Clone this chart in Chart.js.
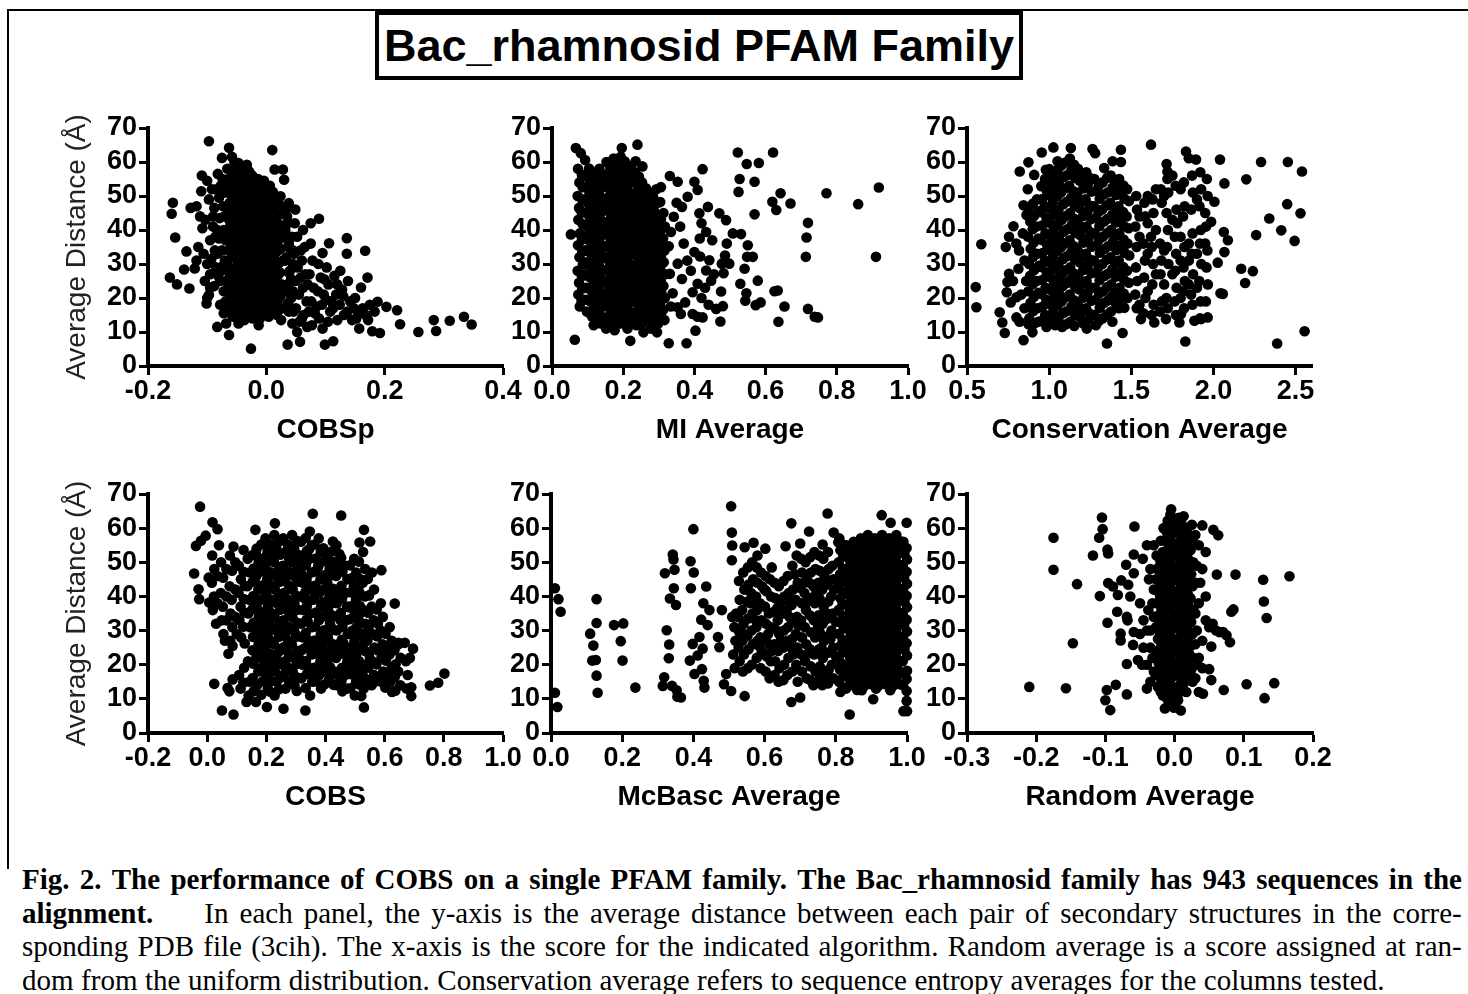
<!DOCTYPE html>
<html>
<head>
<meta charset="utf-8">
<script src="https://cdn.jsdelivr.net/npm/chart.js@4.4.0/dist/chart.umd.min.js"></script>
<style>
  html, body { margin: 0; padding: 0; background: #fff; }
  body { width: 1468px; height: 994px; position: relative; overflow: hidden; }
  .frame { position: absolute; left: 7px; top: 9px; width: 1470px; height: 858px; border-top: 2px solid #000; border-left: 2px solid #000; }
  .title { position: absolute; left: 375px; top: 11px; width: 640px; height: 61px; border: 4px solid #000; background: #fff;
           font: bold 45px "Liberation Sans", Arial, sans-serif; text-align: center; line-height: 61px; color: #000; }
  canvas { position: absolute; }
  .caption { position: absolute; left: 22px; top: 863px; width: 1440px; color: #000;
             font-family: "Liberation Serif", "Times New Roman", serif; font-size: 29px; line-height: 33.7px; }
  .caption .line { display: flex; justify-content: space-between; white-space: nowrap; }
  .caption .line.last { justify-content: flex-start; }
  .caption .line.last span { margin-right: 7.5px; }
</style>
</head>
<body>
<div class="frame"></div>
<div class="title">Bac_rhamnosid PFAM Family</div>
<div class="caption" id="caption"></div>
<script>
// caption text, one entry per printed line
const captionLines = [
  { text: 'Fig. 2.  The performance of COBS on a single PFAM family.  The Bac_rhamnosid family has 943 sequences in the', bold: true },
  { text: 'alignment. In each panel, the y-axis is the average distance between each pair of secondary structures in the corre-', boldFirst: true },
  { text: 'sponding PDB file (3cih).  The x-axis is the score for the indicated algorithm.  Random average is a score assigned at ran-' },
  { text: 'dom from the uniform distribution.  Conservation average refers to sequence entropy averages for the columns tested.', last: true }
];

// tick values per panel
const yTicks = [0, 10, 20, 30, 40, 50, 60, 70];
const cobspTicks = [-0.2, 0, 0.2, 0.4];
const miTicks = [0, 0.2, 0.4, 0.6, 0.8, 1.0];
const consTicks = [0.5, 1.0, 1.5, 2.0, 2.5];
const cobsTicks = [-0.2, 0, 0.2, 0.4, 0.6, 0.8, 1.0];
const mcbascTicks = [0, 0.2, 0.4, 0.6, 0.8, 1.0];
const randomTicks = [-0.3, -0.2, -0.1, 0, 0.1, 0.2];

// [score, average distance]
const cobspPoints = [
  [-0.163,26],[-0.151,24],[-0.16,44.8],[-0.158,48],[-0.154,37.8],[-0.13,22.8],[-0.135,33.7],[-0.139,28.4],[-0.121,28.7],[-0.128,46.5],
  [-0.11,51.4],[-0.101,18.4],[-0.097,20.9],[-0.083,11.5],[-0.063,9.1],[-0.026,5.1],[0.036,6.3],[0.057,7.1],[0.099,6.3],[0.113,7.3],
  [0.089,43.3],[0.075,42],[0.136,37.6],[0.136,33],[0.167,33.9],[0.171,26],[0.16,23.1],[0.106,36.1],[0.095,33.2],[0.188,18.9],
  [0.203,17.4],[0.221,16.4],[0.226,12.3],[0.179,10.2],[0.192,9.7],[0.257,10],[0.283,13.5],[0.287,10.3],[0.31,13.3],[0.334,14.5],
  [0.347,12.2],[-0.097,66.1],[-0.063,64.2],[0.01,63.5],[0.03,54.8],[0.014,57.8],[0.028,57.8],[-0.033,59.2],[-0.047,59.7],[-0.075,61.2],
  [-0.058,61.5],[0.024,49.9],[0.038,47.9],[0.049,46],
  [-0.118,47],[-0.112,44],[-0.108,40.5],[-0.115,35],[-0.106,33],[-0.118,31],[-0.1,30],[-0.104,25],[-0.095,27],[-0.109,56],
  [-0.1,54.5],[-0.092,52],[-0.097,49],[-0.088,46.5],[-0.103,43],[-0.09,41],[-0.095,37],[-0.087,34],[-0.093,31.5],[-0.085,29],
  [-0.081,26.5],[-0.088,23.5],[-0.1,20],[-0.082,56.5],[-0.077,53],[-0.08,49.5],[-0.073,47],[-0.079,43.5],[-0.072,40],[-0.08,37.5],
  [-0.075,34],[-0.07,31],[-0.077,28],[-0.068,25],[-0.072,22],
  [-0.085,52],[-0.09,44],[-0.083,40],[-0.095,23],[-0.078,18],[-0.072,15.5],[-0.068,12.5],
  [-0.074,55],[-0.07,51],[-0.071,44],[-0.069,37],[-0.073,29.5],[-0.069,19],[-0.078,25],[-0.083,33],[-0.086,38],
  [-0.066,58],[-0.063,55],[-0.067,51.5],[-0.062,48],[-0.065,44.5],[-0.061,41],[-0.066,37.5],[-0.063,34],[-0.067,30.5],[-0.062,27],[-0.064,23.5],[-0.06,20],[-0.065,16.5],
  [-0.054,60],[-0.057,56.5],[-0.053,53],[-0.056,49.5],[-0.052,46],[-0.057,42.5],[-0.053,39],[-0.056,35.5],[-0.052,32],[-0.055,28.5],[-0.051,25],[-0.056,21.5],[-0.053,18],[-0.057,14.5],
  [-0.044,57],[-0.047,53.5],[-0.043,50],[-0.046,46.5],[-0.042,43],[-0.047,39.5],[-0.044,36],[-0.046,32.5],[-0.043,29],[-0.045,25.5],[-0.042,22],[-0.046,18.5],[-0.043,15],[-0.047,12.5],
  [-0.034,58.5],[-0.037,55],[-0.033,51.5],[-0.036,48],[-0.032,44.5],[-0.037,41],[-0.034,37.5],[-0.036,34],[-0.033,30.5],[-0.035,27],[-0.032,23.5],[-0.036,20],[-0.033,16.5],[-0.037,13.5],
  [-0.024,56],[-0.027,52.5],[-0.023,49],[-0.026,45.5],[-0.022,42],[-0.027,38.5],[-0.024,35],[-0.026,31.5],[-0.023,28],[-0.025,24.5],[-0.022,21],[-0.026,17.5],[-0.023,14],
  [-0.014,55],[-0.017,51.5],[-0.013,48],[-0.016,44.5],[-0.012,41],[-0.017,37.5],[-0.014,34],[-0.016,30.5],[-0.013,27],[-0.015,23.5],[-0.012,20],[-0.016,16.5],[-0.013,12],
  [-0.004,54.5],[-0.007,50],[-0.003,46.5],[-0.006,43],[-0.002,39.5],[-0.007,36],[-0.004,32.5],[-0.006,29],[-0.003,25.5],[-0.005,22],[-0.002,18.5],[-0.006,15],
  [0.006,53],[0.003,49],[0.007,45.5],[0.004,42],[0.008,38.5],[0.003,35],[0.006,31.5],[0.004,28],[0.007,24.5],[0.005,21],[0.008,17.5],[0.004,14.5],
  [0.016,50],[0.013,46],[0.017,42.5],[0.014,39],[0.018,35.5],[0.013,32],[0.016,28.5],[0.014,25],[0.017,21.5],[0.015,18],[0.018,15],
  [0.026,45],[0.023,41.5],[0.027,38],[0.024,34.5],[0.028,31],[0.023,27.5],[0.026,24],[0.024,20.5],[0.027,17],[0.025,13.5],
  [-0.059,56.8],[-0.061,53.1],[-0.058,49.9],[-0.06,46.2],[-0.062,42.8],[-0.059,39.4],[-0.06,35.7],[-0.058,32.3],[-0.061,28.9],[-0.059,25.1],[-0.06,21.8],[-0.062,18.4],
  [-0.049,58.7],[-0.051,55.2],[-0.05,51.6],[-0.048,48.1],[-0.051,44.9],[-0.049,41.2],[-0.05,37.6],[-0.052,34.2],[-0.049,30.8],[-0.05,27.1],[-0.048,23.7],[-0.051,20.3],[-0.05,16.6],
  [-0.039,56.1],[-0.041,52.4],[-0.04,48.8],[-0.038,45.3],[-0.041,41.9],[-0.039,38.2],[-0.04,34.8],[-0.042,31.3],[-0.039,27.6],[-0.04,24.2],[-0.038,20.9],[-0.041,17.2],[-0.04,14.1],
  [-0.029,57.2],[-0.031,53.6],[-0.03,50.1],[-0.028,46.4],[-0.031,42.9],[-0.029,39.3],[-0.03,35.9],[-0.032,32.2],[-0.029,28.7],[-0.03,25.3],[-0.028,21.8],[-0.031,18.3],[-0.03,15.2],
  [-0.019,54.3],[-0.021,50.7],[-0.02,47.2],[-0.018,43.8],[-0.021,40.1],[-0.019,36.7],[-0.02,33.2],[-0.022,29.8],[-0.019,26.2],[-0.02,22.7],[-0.018,19.3],[-0.021,15.8],
  [-0.009,52.8],[-0.011,49.2],[-0.01,45.7],[-0.008,42.3],[-0.011,38.8],[-0.009,35.2],[-0.01,31.7],[-0.012,28.3],[-0.009,24.8],[-0.01,21.2],[-0.008,17.7],[-0.011,13.9],
  [0.001,51.6],[-0.001,48.1],[0.0,44.6],[0.002,41.1],[-0.001,37.7],[0.001,34.2],[0.0,30.6],[-0.002,27.2],[0.001,23.6],[0.0,20.1],[0.002,16.7],
  [0.011,51.2],[0.009,47.6],[0.01,44.1],[0.012,40.6],[0.009,37.1],[0.011,33.6],[0.01,30.1],[0.008,26.6],[0.011,23.1],[0.01,19.6],[0.012,16.2],
  [0.021,47.8],[0.019,44.2],[0.02,40.7],[0.022,37.3],[0.019,33.8],[0.021,30.2],[0.02,26.8],[0.018,23.2],[0.021,19.7],[0.02,16.3],
  [0.033,46],[0.036,42],[0.031,38.5],[0.037,35],[0.032,31],[0.038,27.5],[0.033,22],[0.037,18.5],[0.043,38],[0.045,34],[0.042,25.5],[0.046,16],
  [0.035,44],[0.032,40],[0.038,36],[0.034,32],[0.04,28],[0.036,24],[0.042,20],[0.038,16],[0.044,12.5],
  [0.048,42],[0.052,38],[0.047,33],[0.053,29],[0.049,25],[0.055,21],[0.05,17],[0.056,13],[0.052,10],
  [0.062,40],[0.065,35],[0.06,31],[0.066,27],[0.062,23],[0.068,19],[0.063,15],[0.069,11.5],
  [0.075,36],[0.078,31],[0.073,27],[0.08,23],[0.076,19],[0.082,15.5],[0.077,12],
  [0.088,30],[0.092,26],[0.087,22],[0.094,18],[0.089,14],[0.097,21],
  [0.102,29],[0.105,24],[0.101,19.5],[0.108,16],[0.104,13],
  [0.115,26.5],[0.118,21],[0.113,17],[0.12,13.5],
  [0.125,28],[0.128,22.5],[0.124,18],[0.131,15],
  [0.138,25],[0.142,19],[0.137,16],[0.145,13.5],
  [0.15,20],[0.155,16],[0.152,14],[0.163,17],[0.168,15],[0.175,18],[0.183,16],[0.172,13.5],[0.157,11],
  [0.045,30],[0.058,34],[0.07,24],[0.085,17.5],[0.098,25.5],[0.11,19],[0.13,20.5],[0.148,17],[0.06,14],[0.072,16],
  [0.095,11],[0.045,22],[0.058,26],[0.12,24]
];

const miPoints = [
  [0.064,7.7],[0.053,38.7],[0.067,64.1],[0.081,62.6],[0.093,60.6],[0.24,65.1],[0.196,64.1],[0.423,57.9],[0.522,62.8],[0.547,59.4],
  [0.581,59.7],[0.621,62.8],[0.527,55],[0.524,51.2],[0.569,54.2],[0.619,48.3],[0.63,45.9],[0.642,50.8],[0.67,47.8],[0.771,50.8],
  [0.86,47.6],[0.918,52.5],[0.91,32.1],[0.719,42.1],[0.715,37.8],[0.713,32.1],[0.719,16.8],[0.738,14.5],[0.747,14.3],[0.569,44.6],
  [0.625,22],[0.634,22.2],[0.636,13],[0.653,17.5],[0.55,35.5],[0.564,32.1],[0.548,32.1],[0.541,28.6],[0.578,25.1],[0.529,24.2],
  [0.546,21.4],[0.543,19.2],[0.572,17.9],[0.586,18.7],[0.508,39],[0.531,38.8],[0.47,44.9],[0.489,42.9],[0.491,36],[0.486,32.5],
  [0.477,30.1],[0.498,30.1],[0.482,27.3],[0.475,21.9],[0.48,17.6],[0.461,16.8],[0.473,13.1],[0.328,6.7],[0.378,6.7],[0.22,7.4],
  [0.257,9.9],[0.295,9.9],[0.403,10.4],[0.423,14.3],[0.409,14.5],[0.438,46.8],[0.433,39.4],[0.414,44.9],[0.4,33.5],[0.416,32.2],
  [0.442,31.1],[0.433,28.1],[0.447,25.1],[0.409,24.2],[0.395,21.7],[0.374,18.7],[0.362,15.3],[0.395,15.3],[0.334,17.5],[0.353,17.3],
  [0.4,54.2],[0.409,51.8],[0.381,49.8],[0.353,54.2],[0.331,55.9],[0.306,52.6],[0.365,46.8],[0.342,43.9],[0.334,39.4],[0.328,35.2],
  [0.353,30.1],[0.331,27.1],[0.365,25.6],[0.339,21.4],[0.283,33.5],[0.262,48.3],[0.254,58.7],[0.235,60.2],
  [0.37,36],[0.36,41],[0.39,28],[0.42,20],[0.44,18],[0.38,31],[0.35,48],[0.42,42],[0.45,37],[0.43,23],[0.455,27],[0.415,37.5],
  [0.073,58],[0.077,54],[0.072,50],[0.076,46.5],[0.074,43],[0.078,39],[0.073,35.5],[0.077,32],[0.072,28],[0.076,24.5],[0.074,21],[0.078,17.5],
  [0.093,56],[0.097,52.5],[0.092,49],[0.096,45],[0.094,41.5],[0.098,38],[0.093,34],[0.097,30.5],[0.092,27],[0.096,23],[0.094,19.5],[0.098,16],
  [0.113,57],[0.117,53.5],[0.112,50],[0.116,46],[0.114,42.5],[0.118,39],[0.113,35.5],[0.117,32],[0.112,28.5],[0.116,25],[0.114,21.5],[0.118,18],[0.113,14.5],[0.117,12],
  [0.133,58],[0.137,54.5],[0.132,51],[0.136,47],[0.134,43.5],[0.138,40],[0.133,36.5],[0.137,33],[0.132,29.5],[0.136,26],[0.134,22.5],[0.138,19],[0.133,15.5],[0.137,12.5],
  [0.153,60],[0.157,56.5],[0.152,53],[0.156,49.5],[0.154,46],[0.158,42.5],[0.153,39],[0.157,35.5],[0.152,32],[0.156,28.5],[0.154,25],[0.158,21.5],[0.153,18],[0.157,14.5],[0.152,11],
  [0.173,61],[0.177,57.5],[0.172,54],[0.176,50.5],[0.174,47],[0.178,43.5],[0.173,40],[0.177,36.5],[0.172,33],[0.176,29.5],[0.174,26],[0.178,22.5],[0.173,19],[0.177,15.5],[0.172,12],[0.176,10.5],
  [0.193,61.5],[0.197,58],[0.192,54.5],[0.196,51],[0.194,47.5],[0.198,44],[0.193,40.5],[0.197,37],[0.192,33.5],[0.196,30],[0.194,26.5],[0.198,23],[0.193,19.5],[0.197,16],[0.192,12.5],
  [0.213,59],[0.217,55.5],[0.212,52],[0.216,48.5],[0.214,45],[0.218,41.5],[0.213,38],[0.217,34.5],[0.212,31],[0.216,27.5],[0.214,24],[0.218,20.5],[0.213,17],[0.217,13.5],[0.212,11],
  [0.233,57],[0.237,53.5],[0.232,50],[0.236,46.5],[0.234,43],[0.238,39.5],[0.233,36],[0.237,32.5],[0.232,29],[0.236,25.5],[0.234,22],[0.238,18.5],[0.233,15],[0.237,12],
  [0.253,54],[0.257,50.5],[0.252,47],[0.256,43.5],[0.254,40],[0.258,36.5],[0.253,33],[0.257,29.5],[0.252,26],[0.256,22.5],[0.254,19],[0.258,15.5],[0.253,12.5],
  [0.273,51],[0.277,47],[0.272,43.5],[0.276,40],[0.274,36.5],[0.278,33],[0.273,29.5],[0.277,26],[0.272,22.5],[0.276,19],[0.274,15.5],[0.278,11],
  [0.293,52],[0.297,48],[0.292,44.5],[0.296,41],[0.294,37],[0.298,33.5],[0.293,30],[0.297,26.5],[0.292,23],[0.296,19.5],[0.294,16],[0.298,12.5],
  [0.313,45],[0.317,41],[0.312,37.5],[0.316,34],[0.314,30.5],[0.318,27],[0.313,23.5],[0.317,20],[0.312,16.5],[0.316,13.5],
  [0.084,56.2],[0.086,52.6],[0.085,48.9],[0.083,45.3],[0.086,41.7],[0.084,37.1],[0.085,33.6],[0.087,29.9],[0.084,26.4],[0.085,22.8],[0.083,19.2],
  [0.104,58.1],[0.106,54.6],[0.105,51.2],[0.103,47.6],[0.106,43.9],[0.104,40.3],[0.105,36.9],[0.107,33.4],[0.104,29.7],[0.105,26.2],[0.103,22.8],[0.106,19.1],[0.105,15.6],
  [0.124,55.3],[0.126,51.8],[0.125,48.2],[0.123,44.6],[0.126,41.1],[0.124,37.6],[0.125,34.1],[0.127,30.6],[0.124,27.2],[0.125,23.6],[0.123,20.1],[0.126,16.6],[0.125,13.2],
  [0.144,56.3],[0.146,52.7],[0.145,49.1],[0.143,45.6],[0.146,42.2],[0.144,38.6],[0.145,35.1],[0.147,31.7],[0.144,28.2],[0.145,24.6],[0.143,21.1],[0.146,17.6],[0.145,14.1],
  [0.164,58.2],[0.166,54.8],[0.165,51.3],[0.163,47.7],[0.166,44.2],[0.164,40.7],[0.165,37.3],[0.167,33.8],[0.164,30.2],[0.165,26.7],[0.163,23.2],[0.166,19.8],[0.165,16.3],[0.164,12.8],
  [0.184,59.3],[0.186,55.8],[0.185,52.2],[0.183,48.8],[0.186,45.3],[0.184,41.7],[0.185,38.3],[0.187,34.8],[0.184,31.3],[0.185,27.8],[0.183,24.3],[0.186,20.8],[0.185,17.2],[0.184,13.8],
  [0.204,60.2],[0.206,56.8],[0.205,53.2],[0.203,49.7],[0.206,46.2],[0.204,42.7],[0.205,39.3],[0.207,35.8],[0.204,32.2],[0.205,28.7],[0.203,25.2],[0.206,21.7],[0.205,18.3],[0.204,14.7],
  [0.224,57.8],[0.226,54.2],[0.225,50.7],[0.223,47.2],[0.226,43.7],[0.224,40.2],[0.225,36.8],[0.227,33.3],[0.224,29.8],[0.225,26.2],[0.223,22.8],[0.226,19.3],[0.225,15.7],[0.224,12.6],
  [0.244,55.7],[0.246,52.2],[0.245,48.8],[0.243,45.2],[0.246,41.8],[0.244,38.2],[0.245,34.7],[0.247,31.2],[0.244,27.7],[0.245,24.2],[0.243,20.7],[0.246,17.2],[0.245,13.8],
  [0.264,52.3],[0.266,48.7],[0.265,45.2],[0.263,41.8],[0.266,38.3],[0.264,34.7],[0.265,31.2],[0.267,27.8],[0.264,24.2],[0.265,20.8],[0.263,17.3],[0.266,13.6],
  [0.284,49.7],[0.286,45.8],[0.285,42.2],[0.283,38.7],[0.286,35.2],[0.284,31.7],[0.285,28.2],[0.287,24.7],[0.284,21.2],[0.285,17.6],[0.283,13.8],
  [0.304,48.2],[0.306,43.2],[0.305,39.6],[0.303,35.8],[0.306,32.2],[0.304,28.8],[0.305,25.2],[0.307,21.7],[0.304,18.2],[0.305,14.8]
];

const consPoints = [
  [0.553,23.2],[0.557,17.3],[0.587,35.8],[0.736,35],[0.783,41.1],[0.756,38],[0.73,9.7],[0.715,12.8],[0.699,15.8],[0.756,27.1],
  [0.746,24.7],[0.742,21.7],[0.766,18.7],[0.813,28.6],[0.801,20.2],[0.801,14.3],[0.844,7.6],[0.898,9.9],[0.874,12.3],[0.821,57.2],
  [0.874,59.9],[0.909,56.2],[0.955,62.8],[0.98,57.7],[1.026,64.3],[1.051,60.2],[1.132,64.1],[0.844,47.3],[0.862,44.4],[0.817,34],
  [1.264,63.8],[1.28,62.6],[1.335,58.2],[1.386,60.2],[1.437,63.6],[1.437,60],[1.62,65.1],[1.715,59.4],[1.72,57.2],[1.833,63.1],
  [1.85,61.1],[1.894,60.7],[2.04,60.7],[2.067,53.7],[2.2,54.9],[2.29,60],[2.453,60],[2.539,57.2],[2.34,43.4],[2.449,47.6],
  [2.413,39.9],[2.53,44.9],[2.494,36.8],[2.26,38.5],[2.169,28.6],[2.24,27.9],[2.193,24.4],[2.388,6.6],[2.555,10.2],[1.352,6.6],
  [1.447,9.7],[1.829,7.2],[2.063,39.4],[2.088,37],[2.067,33.5],[2.026,30.4],[2.043,21.4],[2.057,21.2],[2.006,48.3],[1.986,42.4],
  [1.965,14.3],[1.925,13.8],[1.884,13.3],[1.803,15.3],[1.793,12.8],[1.711,13.8],[1.64,12.8],[1.559,13.8],
  [0.84,39],[0.85,31],[0.86,25],[0.83,21],[0.85,17],[0.8,36],[0.78,25],[0.82,13],[0.87,52],
  [0.875,46],[0.885,42.5],[0.872,38],[0.888,34.5],[0.878,30],[0.884,26.5],[0.874,22],[0.886,18.5],[0.879,14],
  [0.925,49],[0.936,45.5],[0.922,41],[0.934,37.5],[0.927,33],[0.938,29.5],[0.924,25],[0.935,21.5],[0.928,17],[0.933,13],
  [0.975,55],[0.986,51.5],[0.972,47],[0.984,43.5],[0.977,39],[0.988,35.5],[0.974,31],[0.985,27.5],[0.978,23],[0.983,19.5],[0.976,15],[0.984,11.5],
  [1.026,56],[1.035,52.5],[1.022,48],[1.034,44.5],[1.027,40],[1.038,36.5],[1.024,32],[1.035,28.5],[1.028,24],[1.033,20.5],[1.025,16],[1.036,12],
  [1.075,59],[1.086,55.5],[1.072,51],[1.084,47.5],[1.077,43],[1.088,39.5],[1.074,35],[1.085,31.5],[1.078,27],[1.083,23.5],[1.076,19],[1.085,15.5],[1.079,11.5],
  [1.126,61],[1.135,57.5],[1.122,53],[1.134,49.5],[1.127,45],[1.138,41.5],[1.124,37],[1.135,33.5],[1.128,29],[1.133,25.5],[1.125,21],[1.136,17.5],[1.129,13],
  [1.175,58],[1.186,54.5],[1.172,50],[1.184,46.5],[1.177,42],[1.188,38.5],[1.174,34],[1.185,30.5],[1.178,26],[1.183,22.5],[1.176,18],[1.185,14.5],
  [1.226,57],[1.235,53.5],[1.222,49],[1.234,45.5],[1.227,41],[1.238,37.5],[1.224,33],[1.235,29.5],[1.228,25],[1.233,21.5],[1.225,17],[1.236,13.5],[1.229,11],
  [1.275,55],[1.286,51.5],[1.272,47],[1.284,43.5],[1.277,39],[1.288,35.5],[1.274,31],[1.285,27.5],[1.278,23],[1.283,19.5],[1.276,15],[1.285,12],
  [1.326,54],[1.335,50.5],[1.322,46],[1.334,42.5],[1.327,38],[1.338,34.5],[1.324,30],[1.335,26.5],[1.328,22],[1.333,18.5],[1.325,14],
  [1.375,56],[1.386,52.5],[1.372,48],[1.384,44.5],[1.377,40],[1.388,36.5],[1.374,32],[1.385,28.5],[1.378,24],[1.383,20.5],[1.376,16],[1.385,13],
  [1.426,55],[1.435,51.5],[1.422,47],[1.434,43.5],[1.427,39],[1.438,35.5],[1.424,31],[1.435,27.5],[1.428,23],[1.433,19.5],[1.425,17],
  [1.475,52],[1.486,48.5],[1.472,44],[1.484,40.5],[1.477,36],[1.488,32.5],[1.474,28],[1.485,24.5],[1.478,20],
  [0.902,47.8],[0.908,44.1],[0.9,40.2],[0.906,36.3],[0.903,32.1],[0.909,28.2],[0.901,24.1],[0.907,20.3],[0.904,16.2],[0.908,12.4],
  [0.952,52.9],[0.958,49.1],[0.95,45.2],[0.956,41.3],[0.953,37.1],[0.959,33.2],[0.951,29.1],[0.957,25.3],[0.954,21.2],[0.958,17.4],[0.952,13.2],
  [1.002,57.9],[1.008,54.1],[1.0,50.2],[1.006,46.3],[1.003,42.1],[1.009,38.2],[1.001,34.1],[1.007,30.3],[1.004,26.2],[1.008,22.4],[1.002,18.2],[1.006,14.1],
  [1.052,57.7],[1.058,53.8],[1.05,49.9],[1.056,45.8],[1.053,41.7],[1.059,37.8],[1.051,33.9],[1.057,29.8],[1.054,25.7],[1.058,21.8],[1.052,17.9],[1.056,13.8],
  [1.102,59.9],[1.108,56.1],[1.1,52.2],[1.106,48.3],[1.103,44.1],[1.109,40.2],[1.101,36.1],[1.107,32.3],[1.104,28.2],[1.108,24.4],[1.102,20.2],[1.106,16.1],[1.103,12.3],
  [1.152,59.2],[1.158,55.3],[1.15,51.4],[1.156,47.2],[1.153,43.3],[1.159,39.1],[1.151,35.2],[1.157,31.3],[1.154,27.1],[1.158,23.2],[1.152,19.3],[1.156,15.2],[1.153,11.8],
  [1.202,56.1],[1.208,52.2],[1.2,48.3],[1.206,44.1],[1.203,40.2],[1.209,36.3],[1.201,32.1],[1.207,28.2],[1.204,24.3],[1.208,20.1],[1.202,16.2],[1.206,12.6],
  [1.252,55.2],[1.258,51.3],[1.25,47.1],[1.256,43.2],[1.253,39.3],[1.259,35.1],[1.251,31.2],[1.257,27.3],[1.254,23.1],[1.258,19.2],[1.252,15.3],
  [1.302,53.1],[1.308,49.2],[1.3,45.3],[1.306,41.1],[1.303,37.2],[1.309,33.3],[1.301,29.1],[1.307,25.2],[1.304,21.3],[1.308,17.1],[1.302,13.2],
  [1.352,55.3],[1.358,51.1],[1.35,47.2],[1.356,43.3],[1.353,39.1],[1.359,35.2],[1.351,31.3],[1.357,27.1],[1.354,23.2],[1.358,19.3],[1.352,15.1],
  [1.402,54.2],[1.408,50.3],[1.4,46.1],[1.406,42.2],[1.403,38.3],[1.409,34.1],[1.401,30.2],[1.407,26.3],[1.404,22.1],[1.408,18.2],
  [1.452,53.1],[1.458,49.2],[1.45,45.3],[1.456,41.1],[1.453,37.2],[1.459,33.3],[1.451,29.1],[1.457,25.2],[1.454,21.3],[1.458,17.1],
  [1.53,50],[1.535,46],[1.525,41],[1.532,35],[1.528,29],[1.536,25],[1.524,21],[1.533,17],
  [1.58,48],[1.585,44],[1.575,36],[1.583,31],[1.578,26],[1.586,20],[1.574,15.5],
  [1.63,49],[1.635,45],[1.625,35],[1.633,30],[1.628,24],[1.636,18],[1.624,15],
  [1.68,52],[1.685,48],[1.675,36],[1.683,31],[1.678,27],[1.686,19],[1.674,16],
  [1.72,55],[1.725,51],[1.715,45],[1.723,40],[1.718,35],[1.726,30],[1.714,20],[1.722,17],
  [1.77,53],[1.775,46],[1.765,38],[1.773,33],[1.768,28],[1.776,23],[1.764,19],[1.772,15],
  [1.82,54],[1.825,47],[1.815,44],[1.823,35],[1.818,29],[1.826,25],[1.814,22],[1.822,17],
  [1.87,56],[1.875,51],[1.865,46],[1.873,39],[1.868,33],[1.876,27],[1.864,21],[1.872,18],
  [1.92,57],[1.925,52],[1.915,47],[1.923,40],[1.918,36],[1.926,30],[1.914,25],[1.922,19],[1.918,14],
  [1.96,55],[1.965,50],[1.955,41],[1.963,34],[1.958,29],[1.966,24],[1.954,19],
  [1.55,38],[1.6,33],[1.65,40],[1.7,34],[1.75,43],[1.8,38],[1.85,31],[1.9,23],[1.6,22],[1.55,18],
  [1.7,24],[1.8,20],[1.95,45],[1.9,49],[1.85,24],[1.75,27],[1.65,27],[1.6,42],[1.55,44],[1.7,50],
  [1.65,52],[1.6,50],[1.75,56],[1.8,52],[1.95,36],[1.9,33],[1.85,36],[1.8,31],[1.78,42],[1.62,38]
];

const cobsPoints = [
  [-0.024,66.3],[-0.038,54.8],[-0.021,56.3],[-0.005,57.8],[0.018,61.7],[0.035,59.7],[-0.044,46.7],[-0.029,42.1],[0.005,45.5],[-0.027,39.2],
  [0.007,38.2],[0.024,14.4],[0.05,6.6],[0.089,5.4],[0.075,12.2],[0.069,13.2],[0.086,15.7],[0.133,9.1],[0.165,9.1],[0.202,7.6],
  [0.258,7.1],[0.332,6.6],[0.072,23.2],[0.086,25.5],[0.089,54.6],[0.123,53.6],[0.163,59.5],[0.229,61.4],[0.357,64.2],[0.453,63.7],
  [0.53,59.5],[0.551,56.1],[0.589,47.7],[0.634,37.9],[0.696,24.7],[0.685,22],[0.69,13.4],[0.69,10.8],[0.753,13.9],[0.781,14.7],
  [0.802,17.4],[0.53,7.5],[0.521,10.8],[0.647,26.4],[0.668,26.4],[0.515,55.8],[0.425,56.1],[0.447,52.4],
  [0.035,46],[0.035,38],[0.065,48],[0.065,40],[0.065,33],[0.095,50],[0.095,42],[0.095,34],[0.1,29],[0.06,27],[0.03,32],[0.04,55],
  [0.017,52],[0.024,48],[0.016,44],[0.023,40],[0.019,36],
  [0.047,50],[0.054,45.5],[0.046,41],[0.053,37],[0.049,33],[0.055,29],
  [0.077,52],[0.084,47.5],[0.076,43],[0.083,39],[0.079,35],[0.085,31],[0.078,27],
  [0.107,49],[0.114,45],[0.106,41],[0.113,37],[0.109,33],[0.115,28],[0.108,17],[0.113,13],
  [0.137,51],[0.144,47],[0.136,43],[0.143,39],[0.139,35],[0.145,31],[0.138,21],[0.143,15],[0.14,11],
  [0.167,54],[0.174,50],[0.166,46],[0.173,42],[0.169,38],[0.175,34],[0.168,30],[0.174,26],[0.166,22],[0.173,18],[0.169,14],
  [0.197,57],[0.204,53],[0.196,49],[0.203,45],[0.199,41],[0.205,37],[0.198,33],[0.204,29],[0.196,25],[0.203,21],[0.199,17],[0.205,13],
  [0.227,58],[0.234,54],[0.226,50],[0.233,46],[0.229,42],[0.235,38],[0.228,34],[0.234,30],[0.226,26],[0.233,22],[0.229,18],[0.235,15],[0.228,11],
  [0.257,57],[0.264,53],[0.256,49],[0.263,45],[0.259,41],[0.265,37],[0.258,33],[0.264,29],[0.256,25],[0.263,21],[0.259,17],[0.265,13],
  [0.287,58],[0.294,54],[0.286,50],[0.293,46],[0.289,42],[0.295,38],[0.288,34],[0.294,30],[0.286,26],[0.293,22],[0.289,18],[0.295,14],
  [0.317,56],[0.324,52],[0.316,48],[0.323,44],[0.319,40],[0.325,36],[0.318,32],[0.324,28],[0.316,24],[0.323,20],[0.319,16],
  [0.347,59],[0.354,55],[0.346,51],[0.353,47],[0.349,43],[0.355,39],[0.348,35],[0.354,31],[0.346,27],[0.353,23],[0.349,19],[0.355,15],[0.348,11],
  [0.377,57],[0.384,53],[0.376,49],[0.383,45],[0.379,41],[0.385,37],[0.378,33],[0.384,29],[0.376,25],[0.383,21],[0.379,17],[0.385,13],
  [0.407,52],[0.414,48],[0.406,44],[0.413,40],[0.409,36],[0.415,32],[0.408,28],[0.414,24],[0.406,20],[0.413,16],
  [0.437,55],[0.444,50],[0.436,46],[0.443,42],[0.439,38],[0.445,34],[0.438,30],[0.444,26],[0.436,22],[0.443,18],[0.439,14],
  [0.467,49],[0.474,45],[0.466,41],[0.473,37],[0.469,33],[0.475,29],[0.468,25],[0.474,21],[0.466,17],[0.473,13],
  [0.497,51],[0.504,47],[0.496,43],[0.503,39],[0.499,35],[0.505,31],[0.498,27],[0.504,23],[0.496,19],[0.503,15],[0.499,11],
  [0.527,53],[0.534,48],[0.526,44],[0.533,40],[0.529,36],[0.535,32],[0.528,28],[0.534,24],[0.526,20],[0.533,16],[0.529,13],
  [0.557,47],[0.564,42],[0.556,37],[0.563,33],[0.559,29],[0.565,25],[0.558,21],[0.564,17],[0.556,14],
  [0.587,38],[0.594,34],[0.586,30],[0.593,26],[0.589,22],[0.595,18],[0.588,15],
  [0.617,31],[0.624,27],[0.616,23],[0.623,19],[0.619,15],[0.625,12],
  [0.647,26],[0.654,22],[0.646,18],[0.653,14],
  [0.672,21],[0.678,17],[0.674,13],
  [0.123,47.2],[0.127,43.1],[0.124,39.2],[0.126,35.3],[0.122,31.1],[0.127,26.2],[0.125,19.1],[0.122,14.8],
  [0.153,52.1],[0.157,48.2],[0.154,44.3],[0.156,40.1],[0.152,36.2],[0.157,32.3],[0.155,28.1],[0.153,24.2],[0.156,20.3],[0.154,16.1],[0.157,12.2],
  [0.183,55.2],[0.187,51.1],[0.184,47.3],[0.186,43.2],[0.182,39.1],[0.187,35.3],[0.185,31.2],[0.183,27.1],[0.186,23.3],[0.184,19.2],[0.187,15.1],[0.183,11.2],
  [0.213,55.3],[0.217,51.2],[0.214,47.1],[0.216,43.3],[0.212,39.2],[0.217,35.1],[0.215,31.3],[0.213,27.2],[0.216,23.1],[0.214,19.3],[0.217,15.2],[0.213,12.1],
  [0.243,56.1],[0.247,52.2],[0.244,48.1],[0.246,44.3],[0.242,40.2],[0.247,36.1],[0.245,32.3],[0.243,28.2],[0.246,24.1],[0.244,20.3],[0.247,16.2],[0.243,12.8],
  [0.273,55.2],[0.277,51.1],[0.274,47.3],[0.276,43.2],[0.272,39.1],[0.277,35.3],[0.275,31.2],[0.273,27.1],[0.276,23.3],[0.274,19.2],[0.277,15.1],
  [0.303,56.3],[0.307,52.2],[0.304,48.1],[0.306,44.3],[0.302,40.2],[0.307,36.1],[0.305,32.3],[0.303,28.2],[0.306,24.1],[0.304,20.3],[0.307,16.2],[0.303,12.3],
  [0.333,57.1],[0.337,53.3],[0.334,49.2],[0.336,45.1],[0.332,41.3],[0.337,37.2],[0.335,33.1],[0.333,29.3],[0.336,25.2],[0.334,21.1],[0.337,17.3],[0.333,13.2],
  [0.363,55.2],[0.367,51.1],[0.364,47.3],[0.366,43.2],[0.362,39.1],[0.367,35.3],[0.365,31.2],[0.363,27.1],[0.366,23.3],[0.364,19.2],[0.367,15.1],
  [0.393,54.1],[0.397,50.3],[0.394,46.2],[0.396,42.1],[0.392,38.3],[0.397,34.2],[0.395,30.1],[0.393,26.3],[0.396,22.2],[0.394,18.1],[0.397,14.3],
  [0.423,53.2],[0.427,50.1],[0.424,46.3],[0.426,42.2],[0.422,38.1],[0.427,34.3],[0.425,30.2],[0.423,26.1],[0.426,22.3],[0.424,18.2],[0.427,14.1],
  [0.453,51.3],[0.457,47.2],[0.454,43.1],[0.456,39.3],[0.452,35.2],[0.457,31.1],[0.455,27.3],[0.453,23.2],[0.456,19.1],[0.454,15.3],[0.457,12.2],
  [0.483,49.1],[0.487,45.3],[0.484,41.2],[0.486,37.1],[0.482,33.3],[0.487,29.2],[0.485,25.1],[0.483,21.3],[0.486,17.2],[0.484,13.1],
  [0.513,50.2],[0.517,45.1],[0.514,41.3],[0.516,37.2],[0.512,33.1],[0.517,29.3],[0.515,25.2],[0.513,21.1],[0.516,17.3],[0.514,14.2],
  [0.543,45.1],[0.547,40.3],[0.544,35.2],[0.546,31.1],[0.542,27.3],[0.547,23.2],[0.545,19.1],[0.543,15.3],
  [0.573,36.2],[0.577,32.1],[0.574,28.3],[0.576,24.2],[0.572,20.1],[0.577,16.3],
  [0.603,29.1],[0.607,25.3],[0.604,21.2],[0.606,17.1],[0.602,13.3],
  [0.633,24.2],[0.637,20.1],[0.634,16.3],[0.636,12.4],
  [0.16,44.5],[0.17,36.2],[0.18,28.4],[0.19,21.6],[0.2,39.5],[0.21,33.7],[0.22,26.3],[0.23,19.8],[0.24,45.6],[0.25,38.8],
  [0.26,31.4],[0.27,24.9],[0.28,42.1],[0.29,35.6],[0.3,28.7],[0.31,21.9],[0.32,46.3],[0.33,39.4],[0.34,32.6],[0.35,25.8],
  [0.36,41.7],[0.37,34.9],[0.38,27.3],[0.39,20.4],[0.4,44.8],[0.41,37.6],[0.42,30.8],[0.43,23.5],[0.44,40.2],[0.45,33.1],
  [0.46,26.4],[0.47,19.7],[0.48,36.8],[0.49,29.9],[0.5,22.6],[0.51,42.4],[0.52,35.3],[0.53,18.6],[0.54,29.4],[0.55,21.7],
  [0.165,52.3],[0.195,48.6],[0.225,52.8],[0.255,46.9],[0.285,53.2],[0.315,50.6],[0.345,53.8],[0.375,48.7],[0.405,50.9],[0.435,47.4],
  [0.175,23.8],[0.205,16.4],[0.235,23.1],[0.265,18.9],[0.295,16.7],[0.325,24.6],[0.355,17.8],[0.385,23.9],[0.415,19.3],[0.445,16.6],
  [0.475,23.4],[0.505,17.9],[0.535,26.7],[0.565,14.9],[0.595,23.6],[0.625,17.2]
];

const mcbascPoints = [
  [0.011,42.4],[0.021,39.2],[0.027,35.5],[0.011,11.8],[0.018,7.6],[0.128,39.2],[0.128,32.2],[0.11,29.1],[0.119,25.6],[0.116,21.2],
  [0.126,21.4],[0.128,16.8],[0.131,11.8],[0.177,31.6],[0.203,32.1],[0.196,26.9],[0.201,21.2],[0.237,13.3],[0.32,46.8],[0.325,30.1],
  [0.331,21.9],[0.332,25.9],[0.318,16.3],[0.314,13.8],[0.342,52.3],[0.344,50.8],[0.347,47.8],[0.345,42.4],[0.334,39.4],[0.351,37.5],
  [0.34,13.8],[0.353,12.5],[0.365,10.4],[0.355,10.6],[0.4,59.7],[0.392,50.3],[0.401,47],[0.393,42.4],[0.398,26.1],[0.39,21.2],
  [0.403,17.3],[0.412,22.7],[0.417,28.1],[0.422,33.2],[0.428,38],[0.436,42.9],[0.424,18.7],[0.429,15.3],[0.431,13.3],[0.44,31.6],
  [0.445,36],[0.426,24.7],[0.48,36],[0.469,28.1],[0.473,25.1],[0.492,17.3],[0.486,14.3],[0.506,12.3],[0.544,10.8],[0.506,66.4],
  [0.508,58.7],[0.509,54.9],[0.508,50.6],[0.509,34],[0.544,54.4],[0.569,55.7],[0.602,54],[0.675,61.4],[0.725,59],[0.659,54.7],
  [0.777,64.3],[0.763,55.2],[0.794,58.7],[0.807,55.9],[0.675,9.1],[0.7,10.4],[0.839,5.4],[0.905,9.9],[0.929,63.8],[0.954,61.6],
  [0.999,61.6],[0.99,6.4],[1.0,6.4],[0.999,9.4],[0.999,12.3],[1.0,18.2],
  [0.515,31],[0.518,27],[0.512,23],[0.516,19],
  [0.54,47],[0.543,42],[0.537,36],[0.541,32],[0.538,27],[0.542,23],[0.539,18],
  [0.565,50],[0.568,45],[0.562,41],[0.566,35],[0.563,30],[0.567,26],[0.564,20],
  [0.59,47],[0.593,43],[0.587,38],[0.591,33],[0.588,28],[0.592,24],[0.589,19],
  [0.615,45],[0.618,40],[0.612,35],[0.616,31],[0.613,26],[0.617,21],[0.614,16],
  [0.64,43],[0.643,38],[0.637,33],[0.641,29],[0.638,24],[0.642,19],[0.639,15],
  [0.665,46],[0.668,41],[0.662,36],[0.666,31],[0.663,27],[0.667,22],[0.664,17],
  [0.69,52],[0.693,44],[0.687,39],[0.691,34],[0.688,29],[0.692,25],[0.689,20],[0.693,15],
  [0.715,50],[0.718,46],[0.712,41],[0.716,36],[0.713,31],[0.717,26],[0.714,21],[0.718,16],
  [0.74,53],[0.743,48],[0.737,43],[0.741,38],[0.738,33],[0.742,28],[0.739,23],[0.743,18],[0.737,14],
  [0.765,51],[0.768,46],[0.762,42],[0.766,37],[0.763,32],[0.767,27],[0.764,22],[0.768,17],[0.762,14],
  [0.79,49],[0.793,45],[0.787,40],[0.791,35],[0.788,30],[0.792,25],[0.789,20],[0.793,16],
  [0.528,44.5],[0.53,39],[0.526,34],[0.529,29.5],[0.527,25],[0.53,21],
  [0.553,48.5],[0.555,43.5],[0.551,38.5],[0.554,33.5],[0.552,28.5],[0.555,24.5],[0.553,19],
  [0.578,48.5],[0.58,44],[0.576,40],[0.579,36],[0.577,31],[0.58,27],[0.578,22],
  [0.603,46],[0.605,41.5],[0.601,37],[0.604,32],[0.602,27.5],[0.605,22.5],[0.603,18],
  [0.628,44],[0.63,39.5],[0.626,35.5],[0.629,30.5],[0.627,26],[0.63,21],[0.628,17],
  [0.653,44.5],[0.655,40],[0.651,35],[0.654,30],[0.652,25],[0.655,20],[0.653,15.5],
  [0.678,49],[0.68,42],[0.676,37.5],[0.679,32.5],[0.677,27.5],[0.68,23],[0.678,18],
  [0.703,51],[0.705,47],[0.701,42.5],[0.704,38],[0.702,33],[0.705,28],[0.703,23],[0.705,18],
  [0.728,51.5],[0.73,47],[0.726,44],[0.729,39.5],[0.727,34.5],[0.73,29.5],[0.728,24.5],[0.73,19.5],[0.728,15.5],
  [0.753,52],[0.755,47.5],[0.751,44],[0.754,39.5],[0.752,34.5],[0.755,29.5],[0.753,24.5],[0.755,19.5],[0.753,15.5],
  [0.778,53],[0.78,48],[0.776,43.5],[0.779,38.5],[0.777,33.5],[0.78,28.5],[0.778,23.5],[0.78,18.5],[0.778,14.5],
  [0.52,35],[0.535,29.5],[0.56,38],[0.575,33],[0.585,25.5],[0.6,42],[0.61,29],[0.62,24],[0.635,36.5],[0.645,27],
  [0.66,39],[0.67,34],[0.675,25],[0.685,46.5],[0.695,31.5],[0.71,44],[0.72,38.5],[0.725,23.5],[0.745,41],[0.75,31],
  [0.76,25],[0.77,44.5],[0.775,35],[0.785,27.5],[0.795,42],[0.8,32.5],[0.8,22.5],[0.62,48.5],[0.58,52],[0.7,55.5],
  [0.81,57],[0.813,53.5],[0.808,50],[0.812,46.5],[0.809,43],[0.813,39.5],[0.808,36],[0.812,32.5],[0.809,29],[0.813,25.5],[0.808,22],[0.812,18.5],[0.809,15],[0.813,12],
  [0.83,55],[0.833,51.5],[0.828,48],[0.832,44.5],[0.829,41],[0.833,37.5],[0.828,34],[0.832,30.5],[0.829,27],[0.833,23.5],[0.828,20],[0.832,16.5],[0.829,13],
  [0.85,56],[0.853,52.5],[0.848,49],[0.852,45.5],[0.849,42],[0.853,38.5],[0.848,35],[0.852,31.5],[0.849,28],[0.853,24.5],[0.848,21],[0.852,17.5],[0.849,14],
  [0.87,57],[0.873,53.5],[0.868,50],[0.872,46.5],[0.869,43],[0.873,39.5],[0.868,36],[0.872,32.5],[0.869,29],[0.873,25.5],[0.868,22],[0.872,18.5],[0.869,15],[0.873,12.5],
  [0.89,58],[0.893,54.5],[0.888,51],[0.892,47.5],[0.889,44],[0.893,40.5],[0.888,37],[0.892,33.5],[0.889,30],[0.893,26.5],[0.888,23],[0.892,19.5],[0.889,16],
  [0.91,57],[0.913,53.5],[0.908,50],[0.912,46.5],[0.909,43],[0.913,39.5],[0.908,36],[0.912,32.5],[0.909,29],[0.913,25.5],[0.908,22],[0.912,18.5],[0.909,15],[0.913,13],
  [0.93,58],[0.933,54.5],[0.928,51],[0.932,47.5],[0.929,44],[0.933,40.5],[0.928,37],[0.932,33.5],[0.929,30],[0.933,26.5],[0.928,23],[0.932,19.5],[0.929,16],
  [0.95,57],[0.953,53.5],[0.948,50],[0.952,46.5],[0.949,43],[0.953,39.5],[0.948,36],[0.952,32.5],[0.949,29],[0.953,25.5],[0.948,22],[0.952,18.5],[0.949,15],[0.953,12.5],
  [0.97,58],[0.973,54.5],[0.968,51],[0.972,47.5],[0.969,44],[0.973,40.5],[0.968,37],[0.972,33.5],[0.969,30],[0.973,26.5],[0.968,23],[0.972,19.5],[0.969,16],
  [0.99,56],[0.993,52.5],[0.988,49],[0.992,45.5],[0.989,42],[0.993,38.5],[0.988,35],[0.992,31.5],[0.989,28],[0.993,24.5],[0.988,21],[0.992,17.5],[0.989,14],
  [0.819,55.3],[0.821,51.8],[0.82,48.2],[0.818,44.7],[0.821,41.2],[0.819,37.7],[0.82,34.2],[0.822,30.8],[0.819,27.3],[0.82,23.7],[0.818,20.2],[0.821,16.7],[0.82,13.4],
  [0.839,53.8],[0.841,50.2],[0.84,46.7],[0.838,43.2],[0.841,39.8],[0.839,36.2],[0.84,32.7],[0.842,29.2],[0.839,25.7],[0.84,22.2],[0.838,18.8],[0.841,15.2],
  [0.859,54.3],[0.861,50.7],[0.86,47.2],[0.858,43.7],[0.861,40.3],[0.859,36.8],[0.86,33.2],[0.862,29.7],[0.859,26.3],[0.86,22.7],[0.858,19.2],[0.861,15.8],[0.86,12.6],
  [0.879,55.8],[0.881,52.2],[0.88,48.7],[0.878,45.2],[0.881,41.7],[0.879,38.2],[0.88,34.7],[0.882,31.2],[0.879,27.7],[0.88,24.2],[0.878,20.7],[0.881,17.2],[0.88,13.8],
  [0.899,56.2],[0.901,52.8],[0.9,49.2],[0.898,45.7],[0.901,42.2],[0.899,38.8],[0.9,35.2],[0.902,31.7],[0.899,28.3],[0.9,24.7],[0.898,21.2],[0.901,17.8],[0.9,14.3],
  [0.919,55.8],[0.921,52.2],[0.92,48.7],[0.918,45.2],[0.921,41.7],[0.919,38.2],[0.92,34.7],[0.922,31.2],[0.919,27.7],[0.92,24.2],[0.918,20.7],[0.921,17.2],[0.92,13.9],
  [0.939,56.2],[0.941,52.8],[0.94,49.2],[0.938,45.7],[0.941,42.2],[0.939,38.8],[0.94,35.2],[0.942,31.7],[0.939,28.3],[0.94,24.7],[0.938,21.2],[0.941,17.8],[0.94,14.3],
  [0.959,55.8],[0.961,52.2],[0.96,48.7],[0.958,45.2],[0.961,41.7],[0.959,38.2],[0.96,34.7],[0.962,31.2],[0.959,27.7],[0.96,24.2],[0.958,20.7],[0.961,17.2],[0.96,13.8],
  [0.979,56.2],[0.981,52.8],[0.98,49.2],[0.978,45.7],[0.981,42.2],[0.979,38.8],[0.98,35.2],[0.982,31.7],[0.979,28.3],[0.98,24.7],[0.978,21.2],[0.981,17.8],[0.98,14.3],
  [0.999,54.2],[1.0,50.8],[0.999,47.2],[1.0,43.7],[0.999,40.2],[1.0,36.8],[0.999,33.2],[1.0,29.7],[0.999,26.3],[1.0,22.7],[0.999,15.8]
];

const randomPoints = [
  [-0.21,13.5],[-0.157,13.1],[-0.147,26.3],[-0.141,43.6],[-0.175,57.2],[-0.175,47.8],[-0.105,63.1],[-0.104,59.7],[-0.109,57.2],[-0.097,53.7],
  [-0.096,52.6],[-0.118,52],[-0.108,40.1],[-0.096,43.9],[-0.089,42.9],[-0.097,32.3],[-0.083,35.5],[-0.098,12.6],[-0.1,9.6],[-0.093,6.7],
  [-0.085,14.1],[-0.069,11.3],[-0.058,60.5],[-0.059,52.3],[-0.046,51],[-0.059,46.8],[-0.07,49.3],[-0.077,44.7],[-0.067,43.4],[-0.082,40.4],
  [-0.064,40],[-0.078,29.1],[-0.078,27.1],[-0.069,34],[-0.068,33],[-0.059,29.6],[-0.06,25.8],[-0.069,20.2],[-0.053,21.4],[-0.047,20],
  [0.04,60.8],[0.056,59.5],[0.063,57.9],[0.061,46.4],[0.088,46.4],[0.128,44.9],[0.129,38.5],[0.133,33.7],[0.166,45.9],[0.082,35.5],
  [0.085,36.2],[0.08,26.6],[0.075,28.6],[0.07,29.6],[0.053,25.3],[0.05,18.7],[0.053,15.5],[0.041,11.5],[0.071,12.6],[0.104,14.3],
  [0.144,14.6],[0.13,10.2],[-0.014,7.2],[-0.001,7.4],[0.009,6.6],[0.005,9.6],
  [-0.04,55],[-0.035,48],[-0.05,38],[-0.045,33],[-0.04,30],[-0.05,29],[-0.035,25],[-0.04,20],[-0.035,15],[-0.04,13],
  [-0.03,42],[-0.038,36],[0.035,55],[0.045,53],[0.04,48],[0.03,44],[0.035,38],[0.045,33],[0.05,31],[0.06,30],
  [0.04,27],[0.035,22],[0.04,19],[0.03,16],[0.035,12],[0.025,61],[0.03,58],[0.055,32],[0.065,29.5],[0.045,40],
  [-0.03,55],[-0.025,48],[-0.045,25],[-0.03,34],[-0.005,65.5],[0.013,63.5],
  [-0.032,38],[-0.035,30],[-0.032,22],[-0.03,18],[0.03,35],[0.032,30],[0.03,26],[0.033,20],[0.032,49],[0.037,44],[-0.037,45],
  [-0.026,52],[-0.023,48.5],[-0.027,45],[-0.024,41.5],[-0.026,38],[-0.023,34.5],[-0.027,31],[-0.024,27.5],[-0.026,24],[-0.023,20.5],[-0.027,17],[-0.024,13.5],
  [-0.016,60],[-0.013,56.5],[-0.017,53],[-0.014,49.5],[-0.016,46],[-0.013,42.5],[-0.017,39],[-0.014,35.5],[-0.016,32],[-0.013,28.5],[-0.017,25],[-0.014,21.5],[-0.016,18],[-0.013,14.5],[-0.017,11],
  [-0.006,64],[-0.003,60.5],[-0.007,57],[-0.004,53.5],[-0.006,50],[-0.003,46.5],[-0.007,43],[-0.004,39.5],[-0.006,36],[-0.003,32.5],[-0.007,29],[-0.004,25.5],[-0.006,22],[-0.003,18.5],[-0.007,15],[-0.004,11.5],[-0.006,9],
  [0.006,63],[0.003,59.5],[0.007,56],[0.004,52.5],[0.006,49],[0.003,45.5],[0.007,42],[0.004,38.5],[0.006,35],[0.003,31.5],[0.007,28],[0.004,24.5],[0.006,21],[0.003,17.5],[0.007,14],[0.004,10.5],
  [0.016,60],[0.013,56.5],[0.017,53],[0.014,49.5],[0.016,46],[0.013,42.5],[0.017,39],[0.014,35.5],[0.016,32],[0.013,28.5],[0.017,25],[0.014,21.5],[0.016,18],[0.013,14.5],[0.017,12],
  [0.026,57],[0.023,53.5],[0.027,50],[0.024,46.5],[0.026,43],[0.023,39.5],[0.027,36],[0.024,32.5],[0.026,29],[0.023,25.5],[0.027,22],[0.024,18.5],[0.026,15],
  [-0.02,56.3],[-0.021,50.7],[-0.019,47.2],[-0.02,43.3],[-0.021,40.1],[-0.019,36.3],[-0.02,32.8],[-0.021,29.2],[-0.019,25.8],[-0.02,22.3],[-0.021,18.7],[-0.019,15.2],[-0.02,12.1],
  [-0.01,62.2],[-0.011,58.7],[-0.009,55.2],[-0.01,51.8],[-0.011,48.2],[-0.009,44.7],[-0.01,41.2],[-0.011,37.8],[-0.009,34.2],[-0.01,30.7],[-0.011,27.2],[-0.009,23.8],[-0.01,20.2],[-0.011,16.8],[-0.009,13.2],[-0.01,9.8],
  [0.0,62.2],[0.001,58.7],[-0.001,55.2],[0.0,51.8],[0.001,48.2],[-0.001,44.7],[0.0,41.2],[0.001,37.8],[-0.001,34.2],[0.0,30.7],[0.001,27.2],[-0.001,23.8],[0.0,20.2],[0.001,16.8],[-0.001,13.2],[0.0,8.3],
  [0.01,61.3],[0.011,57.8],[0.009,54.2],[0.01,50.7],[0.011,47.2],[0.009,43.8],[0.01,40.2],[0.011,36.7],[0.009,33.2],[0.01,29.8],[0.011,26.2],[0.009,22.7],[0.01,19.2],[0.011,15.8],[0.009,12.2],
  [0.02,58.2],[0.021,54.7],[0.019,51.2],[0.02,47.8],[0.021,44.2],[0.019,40.7],[0.02,37.2],[0.021,33.8],[0.019,30.2],[0.02,26.7],[0.021,23.2],[0.019,19.8],[0.02,16.2]
];

const FONT = '"Liberation Sans", Arial, sans-serif';

// caption: justified lines built from words
const captionBox = document.getElementById('caption');
captionLines.forEach(l => {
  const div = document.createElement('div');
  div.className = 'line' + (l.last ? ' last' : '');
  if (l.bold) div.style.fontWeight = 'bold';
  l.text.split(/\s+/).forEach((w, i) => {
    const s = document.createElement('span');
    s.textContent = w;
    if (l.boldFirst && i === 0) { s.style.fontWeight = 'bold'; s.style.marginRight = '40px'; }
    div.appendChild(s);
  });
  captionBox.appendChild(div);
});

function fmt(v) {
  if (Math.abs(v) < 1e-9) v = 0;
  return v.toFixed(1);
}

// draws one scatter panel; left/right/top/bottom = plot area in page pixels
function drawPanel(p) {
  const yw = p.yTitle ? 88 : 60;
  const padTop = 20, padRight = 35, xh = 81;
  const canvas = document.createElement('canvas');
  canvas.width = yw + (p.right - p.left) + padRight;
  canvas.height = padTop + (p.bottom - p.top) + xh;
  canvas.style.left = (p.left - yw) + 'px';
  canvas.style.top = (p.top - padTop) + 'px';
  document.body.appendChild(canvas);

  new Chart(canvas, {
    type: 'scatter',
    data: {
      datasets: [{
        data: p.points.map(d => ({ x: d[0], y: d[1] })),
        pointRadius: 5.3,
        pointHoverRadius: 5.3,
        pointBackgroundColor: '#000',
        pointBorderWidth: 0,
        clip: false
      }]
    },
    options: {
      responsive: false,
      animation: false,
      events: [],
      layout: { padding: { top: padTop, right: padRight, left: 0, bottom: 0 } },
      plugins: { legend: { display: false }, tooltip: { enabled: false } },
      scales: {
        x: {
          type: 'linear',
          min: p.min,
          max: p.max,
          afterBuildTicks: s => { s.ticks = p.ticks.map(v => ({ value: v })); },
          afterFit: s => { s.height = xh; },
          ticks: { color: '#000', padding: 0, maxRotation: 0, autoSkip: false,
                   font: { family: FONT, size: 27, weight: 'bold' }, callback: v => fmt(v) },
          grid: { drawOnChartArea: false, drawTicks: true, tickLength: 9, tickWidth: 3, tickColor: '#000' },
          border: { display: true, color: '#000', width: 4 },
          title: { display: true, text: p.xTitle, color: '#000', padding: 0,
                   font: { family: FONT, size: 28, weight: 'bold' } }
        },
        y: {
          min: 0,
          max: 70,
          afterBuildTicks: s => { s.ticks = yTicks.map(v => ({ value: v })); },
          afterFit: s => { s.width = yw; },
          ticks: { color: '#000', padding: 2, autoSkip: false, font: { family: FONT, size: 27, weight: 'bold' } },
          grid: { drawOnChartArea: false, drawTicks: true, tickLength: 9, tickWidth: 3, tickColor: '#000' },
          border: { display: true, color: '#000', width: 4 },
          title: { display: !!p.yTitle, text: 'Average Distance (Å)', color: '#222', padding: 0,
                   font: { family: FONT, size: 28, weight: 'normal' } }
        }
      }
    }
  });
}

drawPanel({ points: cobspPoints, ticks: cobspTicks, min: -0.2, max: 0.4, xTitle: 'COBSp', yTitle: true,
            left: 148, right: 503, top: 128, bottom: 366 });
drawPanel({ points: miPoints, ticks: miTicks, min: 0, max: 1.0, xTitle: 'MI Average',
            left: 552, right: 908, top: 128, bottom: 366 });
drawPanel({ points: consPoints, ticks: consTicks, min: 0.5, max: 2.6, xTitle: 'Conservation Average',
            left: 967, right: 1312, top: 128, bottom: 366 });
drawPanel({ points: cobsPoints, ticks: cobsTicks, min: -0.2, max: 1.0, xTitle: 'COBS', yTitle: true,
            left: 148, right: 503, top: 494, bottom: 733 });
drawPanel({ points: mcbascPoints, ticks: mcbascTicks, min: 0, max: 1.0, xTitle: 'McBasc Average',
            left: 551, right: 907, top: 494, bottom: 733 });
drawPanel({ points: randomPoints, ticks: randomTicks, min: -0.3, max: 0.2, xTitle: 'Random Average',
            left: 967, right: 1313, top: 494, bottom: 733 });
</script>
</body>
</html>
